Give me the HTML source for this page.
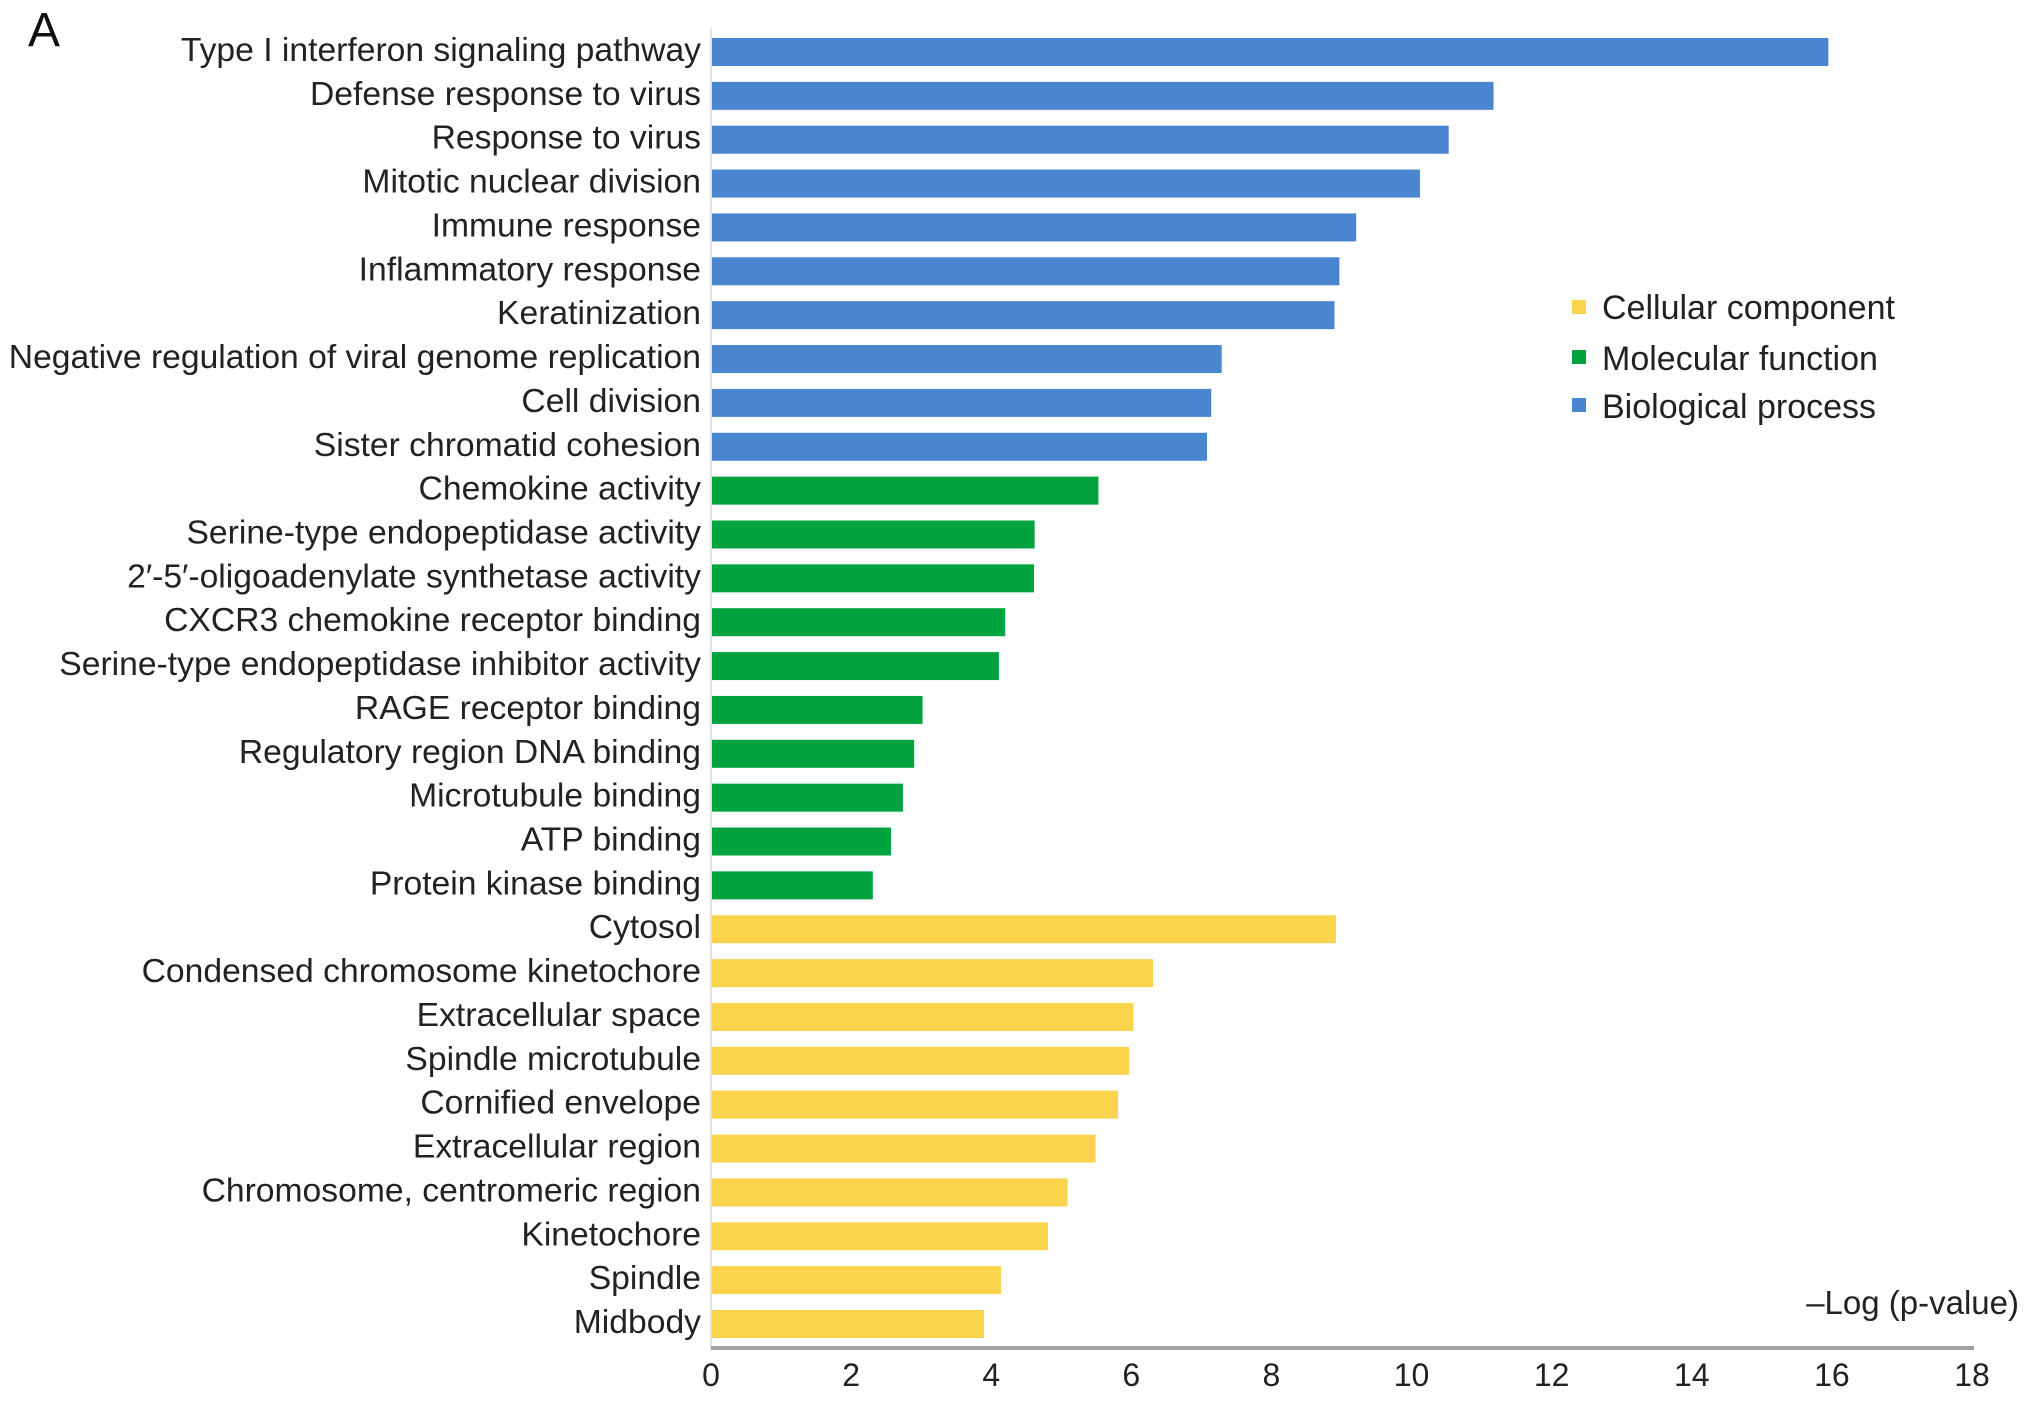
<!DOCTYPE html>
<html><head><meta charset="utf-8"><style>
html,body{margin:0;padding:0;background:#fff;}
svg{display:block;font-family:"Liberation Sans",Arial,sans-serif;}
</style></head><body>
<svg id="chart" width="2032" height="1425" viewBox="0 0 2032 1425" xmlns="http://www.w3.org/2000/svg">
<text x="28" y="46" font-size="48" fill="#111">A</text>
<line x1="711" y1="28" x2="711" y2="1348" stroke="#e2e2e2" stroke-width="2"/>
<g id="bars"></g>
<g id="labels"></g>
<line x1="711" y1="1348" x2="1974" y2="1348" stroke="#a0a0a4" stroke-width="4"/>
<g id="ticks"></g>
<text x="2019" y="1314" font-size="33" text-anchor="end" fill="#222">–Log (p-value)</text>
<g>
<g>
<rect x="1572" y="300" width="14" height="14" fill="#fcd34d"/>
<text x="1602" y="319" font-size="34" fill="#222">Cellular component</text></g>
<g>
<rect x="1572" y="350" width="14" height="14" fill="#00a33e"/>
<text x="1602" y="370" font-size="34" fill="#222">Molecular function</text></g>
<g>
<rect x="1572" y="398" width="14" height="14" fill="#4a86d0"/>
<text x="1602" y="418" font-size="34" fill="#222">Biological process</text></g>
</g>
</svg>
<script>
const categories = ["Type I interferon signaling pathway","Defense response to virus","Response to virus","Mitotic nuclear division","Immune response","Inflammatory response","Keratinization","Negative regulation of viral genome replication","Cell division","Sister chromatid cohesion","Chemokine activity","Serine-type endopeptidase activity","2′-5′-oligoadenylate synthetase activity","CXCR3 chemokine receptor binding","Serine-type endopeptidase inhibitor activity","RAGE receptor binding","Regulatory region DNA binding","Microtubule binding","ATP binding","Protein kinase binding","Cytosol","Condensed chromosome kinetochore","Extracellular space","Spindle microtubule","Cornified envelope","Extracellular region","Chromosome, centromeric region","Kinetochore","Spindle","Midbody"];
const values = [15.95,11.17,10.53,10.12,9.21,8.97,8.90,7.29,7.14,7.08,5.53,4.62,4.61,4.20,4.11,3.02,2.90,2.74,2.57,2.31,8.92,6.31,6.03,5.97,5.81,5.49,5.09,4.81,4.14,3.90];
const groups = ["bp","bp","bp","bp","bp","bp","bp","bp","bp","bp","mf","mf","mf","mf","mf","mf","mf","mf","mf","mf","cc","cc","cc","cc","cc","cc","cc","cc","cc","cc"];
const tickLabels = [0,2,4,6,8,10,12,14,16,18];
const colors = {bp:"#4a86d0", mf:"#00a33e", cc:"#fcd34d"};
const NS = "http://www.w3.org/2000/svg";
const x0 = 711, x1 = 1972, xMax = 18;
const xs = v => x0 + (v / xMax) * (x1 - x0);
const yTop = 52, yBot = 1324;
const ys = i => yTop + i * (yBot - yTop) / (categories.length - 1);
const barH = 28;
const bars = document.getElementById('bars');
const labels = document.getElementById('labels');
categories.forEach((c, i) => {
  const r = document.createElementNS(NS, 'rect');
  r.setAttribute('x', xs(0) + 1);
  r.setAttribute('y', ys(i) - barH / 2);
  r.setAttribute('width', xs(values[i]) - xs(0) - 1);
  r.setAttribute('height', barH);
  r.setAttribute('fill', colors[groups[i]]);
  
  
  bars.appendChild(r);
  const t = document.createElementNS(NS, 'text');
  t.setAttribute('x', 0);
  t.setAttribute('y', 0);
  t.setAttribute('transform', 'translate(701,' + (ys(i) + 9) + ') scale(1.02,1)');
  t.setAttribute('text-anchor', 'end');
  t.setAttribute('font-size', '33');
  t.setAttribute('fill', '#222');
  t.textContent = c;
  
  
  labels.appendChild(t);
});
const ticks = document.getElementById('ticks');
tickLabels.forEach(v => {
  const t = document.createElementNS(NS, 'text');
  t.setAttribute('x', xs(v));
  t.setAttribute('y', 1386);
  t.setAttribute('text-anchor', 'middle');
  t.setAttribute('font-size', '32');
  t.setAttribute('fill', '#222');
  t.textContent = v;
  
  
  ticks.appendChild(t);
});
</script>
</body></html>
